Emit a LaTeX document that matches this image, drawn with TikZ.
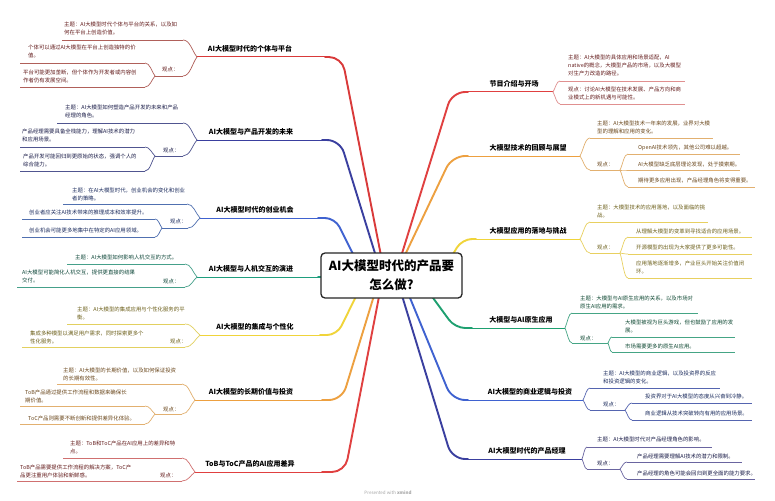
\documentclass[tikz,border=0pt]{standalone}
\usepackage{fontspec}
\setmainfont{Noto Sans CJK SC}
\usetikzlibrary{calc}
% branch colours: m = main curve, s = sub lines, t = sub text
\definecolor{mLa}{HTML}{D93A3A}\definecolor{sLa}{HTML}{B0605A}
\definecolor{mLb}{HTML}{3A3F9F}\definecolor{sLb}{HTML}{505590}
\definecolor{mLc}{HTML}{3F62D0}\definecolor{sLc}{HTML}{5070B0}
\definecolor{mLd}{HTML}{1E9E7E}\definecolor{sLd}{HTML}{45A08A}
\definecolor{mLe}{HTML}{F0D43A}\definecolor{sLe}{HTML}{E2D060}
\definecolor{mLf}{HTML}{EDA040}\definecolor{sLf}{HTML}{E2B070}
\definecolor{mLg}{HTML}{E04040}\definecolor{sLg}{HTML}{D07070}
\definecolor{mRa}{HTML}{E04040}\definecolor{sRa}{HTML}{E09090}
\definecolor{mRb}{HTML}{EDA040}\definecolor{sRb}{HTML}{E2B070}
\definecolor{mRc}{HTML}{F0D43A}\definecolor{sRc}{HTML}{E8D060}
\definecolor{mRd}{HTML}{1EA070}\definecolor{sRd}{HTML}{45A585}
\definecolor{mRe}{HTML}{3F62D0}\definecolor{sRe}{HTML}{5565B0}
\definecolor{mRf}{HTML}{3A3F9F}\definecolor{sRf}{HTML}{6A65A0}
\colorlet{tLa}{mLa!45!black}\colorlet{tLb}{mLb!45!black}\colorlet{tLc}{mLc!45!black}
\colorlet{tLd}{mLd!45!black}\colorlet{tLe}{mLe!45!black}\colorlet{tLf}{mLf!45!black}
\colorlet{tLg}{mLg!45!black}\colorlet{tRa}{mRa!45!black}\colorlet{tRb}{mRb!45!black}
\colorlet{tRc}{mRc!45!black}\colorlet{tRd}{mRd!45!black}\colorlet{tRe}{mRe!45!black}
\colorlet{tRf}{mRf!45!black}
\tikzset{
  subline/.style={line width=0.7pt},
  topicline/.style={line width=1pt},
  mainline/.style={line width=1.9pt, line cap=round, line join=round, rounded corners=13pt},
  subtext/.style={inner sep=0pt, font=\fontsize{5.4}{8}\selectfont, align=left, anchor=north west},
  topictext/.style={inner sep=0pt, font=\fontsize{7}{8}\selectfont\bfseries, text=black},
  centerbox/.style={draw=black!85, line width=1.3pt, rounded corners=4pt, fill=white,
    minimum width=141, minimum height=45, inner sep=0pt, align=center,
    font=\fontsize{12.5}{19}\selectfont\bfseries},
}
% underline: name, colour, xL, xR, y
\newcommand\mmul[5]{%
  \coordinate (#1L) at (#3,#5);
  \coordinate (#1R) at (#4,#5);
  \draw[subline,#2] (#1L) -- (#1R);}
% text: name, colour, x, y of first line centre, text
\newcommand\mmtx[5]{%
  \node[subtext,text=#2] (#1) at (#3,#4-2.8) {#5};}
% connector from child end to parent end
\newcommand\mmcn[3]{%
  \path ($(#2)!0.5!(#3)$) coordinate (mmA) ($(#2)!0.65!(#3)$) coordinate (mmB);
  \draw[subline,#1] (#2) .. controls (mmA |- #2) and (mmB) .. (#3);}
% main topic: name, colour, xL, xR, y, label x, label
\newcommand\mmtopic[7]{%
  \coordinate (#1L) at (#3,#5);
  \coordinate (#1R) at (#4,#5);
  \draw[topicline,#2] (#1L) -- (#1R);
  \node[topictext] (#1t) at (#6,#5-8) {#7};}
\begin{document}
\begin{tikzpicture}[x=1pt,y=-1pt]
\fill[white] (0,0) rectangle (775,500);
\useasboundingbox (0,0) rectangle (775,500);

% hidden start points of the main branches (under the centre box)
\coordinate (sLa) at (385,276); \coordinate (sLb) at (382,276);
\coordinate (sLc) at (364,276); \coordinate (sLd) at (345,277);
\coordinate (sLe) at (366,276); \coordinate (sLf) at (380,276);
\coordinate (sLg) at (383,276);
\coordinate (sRa) at (395,276); \coordinate (sRb) at (395,276);
\coordinate (sRc) at (440,276); \coordinate (sRd) at (417,276);
\coordinate (sRe) at (401,276); \coordinate (sRf) at (396,276);

%================ LEFT 1
\mmtopic{Lam}{mLa}{197}{325}{57}{250}{AI大模型时代的个体与平台}
\mmul{Laa}{sLa}{62}{183}{40}\mmtx{Laat}{tLa}{64}{25}{主题：AI大模型时代个体与平台的关系，以及如\\何在平台上创造价值。}
\mmul{Lab}{sLa}{155}{183}{76}\mmtx{Labt}{tLa}{162}{70}{观点：}
\mmul{Lac}{sLa}{20}{145}{63}\mmtx{Lact}{tLa}{28}{48}{个体可以通过AI大模型在平台上创造独特的价\\值。}
\mmul{Lad}{sLa}{20}{145}{87}\mmtx{Ladt}{tLa}{23}{73}{平台可能更加垄断，但个体作为开发者或内容创\\作者仍有发展空间。}
\mmcn{sLa}{LaaR}{LamL}\mmcn{sLa}{LabR}{LamL}\mmcn{sLa}{LacR}{LabL}\mmcn{sLa}{LadR}{LabL}
\draw[mainline,mLa] (LamR) -- (342,57) -- (sLa);

%================ LEFT 2
\mmtopic{Lbm}{mLb}{197}{322}{140}{251}{AI大模型与产品开发的未来}
\mmul{Lba}{sLb}{57}{183}{123}\mmtx{Lbat}{tLb}{65}{108}{主题：AI大模型如何塑造产品开发的未来和产品\\经理的角色。}
\mmul{Lbc}{sLb}{20}{145}{147}\mmtx{Lbct}{tLb}{22}{132}{产品经理需要具备全栈能力，理解AI技术的潜力\\和应用场景。}
\mmul{Lbb}{sLb}{155}{183}{156}\mmtx{Lbbt}{tLb}{163}{151}{观点：}
\mmul{Lbd}{sLb}{20}{145}{171}\mmtx{Lbdt}{tLb}{23}{157}{产品开发可能回归到更原始的状态，强调个人的\\综合能力。}
\mmcn{sLb}{LbaR}{LbmL}\mmcn{sLb}{LbbR}{LbmL}\mmcn{sLb}{LbcR}{LbbL}\mmcn{sLb}{LbdR}{LbbL}
\draw[mainline,mLb] (LbmR) -- (340,140) -- (sLb);

%================ LEFT 3
\mmtopic{Lcm}{mLc}{200}{318}{218}{255}{AI大模型时代的创业机会}
\mmul{Lca}{sLc}{63}{187}{204}\mmtx{Lcat}{tLc}{72}{191}{主题：在AI大模型时代，创业机会的变化和创业\\者的策略。}
\mmul{Lcc}{sLc}{22}{155}{219}\mmtx{Lcct}{tLc}{29}{213}{创业者应关注AI技术带来的推理成本和效率提升。}
\mmul{Lcb}{sLc}{162}{188}{228}\mmtx{Lcbt}{tLc}{170}{222}{观点：}
\mmul{Lcd}{sLc}{22}{155}{237}\mmtx{Lcdt}{tLc}{29}{231}{创业机会可能更多地集中在特定的AI应用领域。}
\mmcn{sLc}{LcaR}{LcmL}\mmcn{sLc}{LcbR}{LcmL}\mmcn{sLc}{LccR}{LcbL}\mmcn{sLc}{LcdR}{LcbL}
\draw[mainline,mLc,rounded corners=10pt] (LcmR) -- (335,218) -- (sLc);

%================ LEFT 4
\mmtopic{Ldm}{mLd}{197}{318}{277}{251}{AI大模型与人机交互的演进}
\mmul{Lda}{sLd}{67}{185}{264}\mmtx{Ldat}{tLd}{75}{258}{主题：AI大模型如何影响人机交互的方式。}
\mmul{Ldc}{sLd}{17}{155}{287}\mmtx{Ldct}{tLd}{22}{273}{AI大模型可能简化人机交互，提供更直接的结果\\交付。}
\mmul{Ldb}{sLd}{155}{185}{287}\mmtx{Ldbt}{tLd}{163}{282}{观点：}
\mmcn{sLd}{LdaR}{LdmL}\mmcn{sLd}{LdbR}{LdmL}
\draw[mainline,mLd] (LdmR) -- (sLd);

%================ LEFT 5
\mmtopic{Lem}{mLe}{200}{320}{335}{255}{AI大模型的集成与个性化}
\mmul{Lea}{sLe}{67}{185}{324}\mmtx{Leat}{tLe}{77}{310}{主题：AI大模型的集成应用与个性化服务的平\\衡。}
\mmul{Lec}{sLe}{22}{155}{347}\mmtx{Lect}{tLe}{30}{334}{集成多种模型以满足用户需求，同时探索更多个\\性化服务。}
\mmul{Leb}{sLe}{155}{185}{347}\mmtx{Lebt}{tLe}{170}{342}{观点：}
\mmcn{sLe}{LeaR}{LemL}\mmcn{sLe}{LebR}{LemL}
\draw[mainline,mLe,rounded corners=10pt] (LemR) -- (337,335) -- (sLe);

%================ LEFT 6
\mmtopic{Lfm}{mLf}{195}{322}{400}{251}{AI大模型的长期价值与投资}
\mmul{Lfa}{sLf}{57}{182}{384}\mmtx{Lfat}{tLf}{63}{371}{主题：AI大模型的长期价值，以及如何保证投资\\的长期有效性。}
\mmul{Lfc}{sLf}{20}{145}{406}\mmtx{Lfct}{tLf}{25}{393}{ToB产品通过提供工作流程和数据来确保长\\期价值。}
\mmul{Lfb}{sLf}{155}{182}{414}\mmtx{Lfbt}{tLf}{163}{410}{观点：}
\mmul{Lfd}{sLf}{20}{145}{424}\mmtx{Lfdt}{tLf}{28}{419}{ToC产品则需要不断创新和提供差异化体验。}
\mmcn{sLf}{LfaR}{LfmL}\mmcn{sLf}{LfbR}{LfmL}\mmcn{sLf}{LfcR}{LfbL}\mmcn{sLf}{LfdR}{LfbL}
\draw[mainline,mLf] (LfmR) -- (342,400) -- (sLf);

%================ LEFT 7
\mmtopic{Lgm}{mLg}{195}{322}{472}{250}{ToB与ToC产品的AI应用差异}
\mmul{Lga}{sLg}{63}{182}{458}\mmtx{Lgat}{tLg}{70}{444}{主题：ToB和ToC产品在AI应用上的差异和特\\点。}
\mmul{Lgc}{sLg}{17}{155}{481}\mmtx{Lgct}{tLg}{20}{468}{ToB产品需要提供工作流程的解决方案，ToC产\\品更注重用户体验和新鲜感。}
\mmul{Lgb}{sLg}{155}{182}{481}\mmtx{Lgbt}{tLg}{160}{476}{观点：}
\mmcn{sLg}{LgaR}{LgmL}\mmcn{sLg}{LgbR}{LgmL}
\draw[mainline,mLg] (LgmR) -- (345,472) -- (sLg);

%================ RIGHT 1
\mmtopic{Ram}{mRa}{468}{553}{92}{514}{节目介绍与开场}
\mmul{Raa}{sRa}{560}{685}{81}\mmtx{Raat}{tRa}{568}{58}{主题：AI大模型的具体应用和场景适配，AI\\native的概念，大模型产品的市场，以及大模型\\对生产力改造的路径。}
\mmul{Rab}{sRa}{560}{685}{104}\mmtx{Rabt}{tRa}{568}{90}{观点：讨论AI大模型在技术发展、产品方向和商\\业模式上的新机遇与可能性。}
\mmcn{sRa}{RaaL}{RamR}\mmcn{sRa}{RabL}{RamR}
\draw[mainline,mRa] (RamL) -- (452,92) -- (sRa);

%================ RIGHT 2
\mmtopic{Rbm}{mRb}{468}{580}{156}{528}{大模型技术的回顾与展望}
\mmul{Rba}{sRb}{590}{713}{138}\mmtx{Rbat}{tRb}{597}{124}{主题：AI大模型技术一年来的发展，业界对大模\\型的理解和应用的变化。}
\mmul{Rbb}{sRb}{590}{620}{170}\mmtx{Rbbt}{tRb}{597}{165}{观点：}
\mmul{Rbc}{sRb}{628}{740}{154}\mmtx{Rbct}{tRb}{638}{148}{OpenAI技术领先，其他公司难以超越。}
\mmul{Rbd}{sRb}{628}{740}{170}\mmtx{Rbdt}{tRb}{638}{165}{AI大模型缺乏底层理论发现，处于摸索期。}
\mmul{Rbe}{sRb}{628}{755}{187}\mmtx{Rbet}{tRb}{638}{181}{期待更多应用出现，产品经理角色将变得重要。}
\mmcn{sRb}{RbaL}{RbmR}\mmcn{sRb}{RbbL}{RbmR}
\mmcn{sRb}{RbcL}{RbbR}\mmcn{sRb}{RbdL}{RbbR}\mmcn{sRb}{RbeL}{RbbR}
\draw[mainline,mRb] (RbmL) -- (452,156) -- (sRb);

%================ RIGHT 3
\mmtopic{Rcm}{mRc}{476}{580}{239}{528}{大模型应用的落地与挑战}
\mmul{Rca}{sRc}{590}{708}{222}\mmtx{Rcat}{tRc}{597}{208}{主题：大模型技术的应用落地，以及面临的挑\\战。}
\mmul{Rcb}{sRc}{590}{620}{253}\mmtx{Rcbt}{tRc}{597}{248}{观点：}
\mmul{Rcc}{sRc}{628}{752}{237}\mmtx{Rcct}{tRc}{636}{232}{从理解大模型的变革到寻找适合的应用场景。}
\mmul{Rcd}{sRc}{628}{752}{254}\mmtx{Rcdt}{tRc}{636}{248}{开源模型的出现为大家提供了更多可能性。}
\mmul{Rce}{sRc}{628}{752}{278}\mmtx{Rcet}{tRc}{636}{264}{应用落地逐渐增多，产业巨头开始关注价值闭\\环。}
\mmcn{sRc}{RcaL}{RcmR}\mmcn{sRc}{RcbL}{RcmR}
\mmcn{sRc}{RccL}{RcbR}\mmcn{sRc}{RcdL}{RcbR}\mmcn{sRc}{RceL}{RcbR}
\draw[mainline,mRc,rounded corners=10pt] (RcmL) -- (462,239) -- (sRc);

%================ RIGHT 4
\mmtopic{Rdm}{mRd}{472}{565}{328}{521}{大模型与AI原生应用}
\mmul{Rda}{sRd}{572}{698}{313}\mmtx{Rdat}{tRd}{580}{299}{主题：大模型与AI原生应用的关系，以及市场对\\原生AI应用的需求。}
\mmul{Rdb}{sRd}{572}{608}{343}\mmtx{Rdbt}{tRd}{580}{339}{观点：}
\mmul{Rdc}{sRd}{612}{735}{337}\mmtx{Rdct}{tRd}{625}{323}{大模型被视为巨头游戏，但也鼓励了应用的发\\展。}
\mmul{Rdd}{sRd}{612}{735}{352}\mmtx{Rddt}{tRd}{625}{347}{市场需要更多的原生AI应用。}
\mmcn{sRd}{RdaL}{RdmR}\mmcn{sRd}{RdbL}{RdmR}
\mmcn{sRd}{RdcL}{RdbR}\mmcn{sRd}{RddL}{RdbR}
\draw[mainline,mRd,rounded corners=10pt] (RdmL) -- (455,328) -- (sRd);

%================ RIGHT 5
\mmtopic{Rem}{mRe}{468}{583}{400}{530}{AI大模型的商业逻辑与投资}
\mmul{Rea}{sRe}{590}{720}{388}\mmtx{Reat}{tRe}{603}{374}{主题：AI大模型的商业逻辑，以及投资界的反应\\和投资逻辑的变化。}
\mmul{Reb}{sRe}{590}{625}{410}\mmtx{Rebt}{tRe}{603}{405}{观点：}
\mmul{Rec}{sRe}{632}{752}{403}\mmtx{Rect}{tRe}{645}{397}{投资界对于AI大模型的态度从兴奋到冷静。}
\mmul{Red}{sRe}{632}{752}{420}\mmtx{Redt}{tRe}{645}{414}{商业逻辑从技术突破转向有用的应用场景。}
\mmcn{sRe}{ReaL}{RemR}\mmcn{sRe}{RebL}{RemR}
\mmcn{sRe}{RecL}{RebR}\mmcn{sRe}{RedL}{RebR}
\draw[mainline,mRe] (RemL) -- (452,400) -- (sRe);

%================ RIGHT 6
\mmtopic{Rfm}{mRf}{468}{582}{459}{527}{AI大模型时代的产品经理}
\mmul{Rfa}{sRf}{587}{712}{447}\mmtx{Rfat}{tRf}{597}{440}{主题：AI大模型时代对产品经理角色的影响。}
\mmul{Rfb}{sRf}{587}{620}{469}\mmtx{Rfbt}{tRf}{597}{464}{观点：}
\mmul{Rfc}{sRf}{627}{742}{462}\mmtx{Rfct}{tRf}{637}{457}{产品经理需要理解AI技术的潜力和限制。}
\mmul{Rfd}{sRf}{627}{755}{479}\mmtx{Rfdt}{tRf}{637}{473}{产品经理的角色可能会回归到更全面的能力要求。}
\mmcn{sRf}{RfaL}{RfmR}\mmcn{sRf}{RfbL}{RfmR}
\mmcn{sRf}{RfcL}{RfbR}\mmcn{sRf}{RfdL}{RfbR}
\draw[mainline,mRf] (RfmL) -- (452,459) -- (sRf);

%================ CENTRE
\node[centerbox] (center) at (391.5,275.5) {AI大模型时代的产品要\\怎么做?};

\node[inner sep=0pt, font=\fontsize{4.5}{5}\selectfont, text=black!35] (credit) at (388,493)
  {Presented with \textbf{xmind}};
\end{tikzpicture}
\end{document}
